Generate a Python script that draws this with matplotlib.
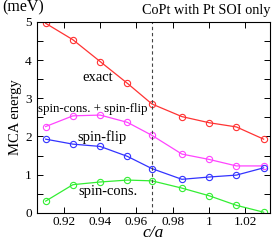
import numpy as np
import matplotlib
matplotlib.use("Agg")
import matplotlib.pyplot as plt
from matplotlib.ticker import MultipleLocator

# c/a values and MCA energies (meV)
ca = [0.91, 0.925, 0.94, 0.955, 0.9685, 0.985, 1.0, 1.015, 1.03]
exact = [4.96, 4.53, 3.96, 3.39, 2.85, 2.52, 2.36, 2.25, 1.93]
cons_flip = [2.26, 2.54, 2.56, 2.37, 2.03, 1.54, 1.40, 1.23, 1.23]
spin_flip = [1.93, 1.80, 1.74, 1.48, 1.16, 0.88, 0.94, 0.99, 1.18]
spin_cons = [0.31, 0.74, 0.81, 0.86, 0.84, 0.65, 0.45, 0.20, 0.02]
ca_eq = 0.9685
xticks = [0.92, 0.94, 0.96, 0.98, 1.0, 1.02]
xticklabels = ["0.92", "0.94", "0.96", "0.98", "1", "1.02"]

plt.rcParams['font.family'] = ['Liberation Serif', 'DejaVu Serif']

fig = plt.figure(figsize=(2.73, 2.42), dpi=100)
ax = fig.add_axes([0.134, 0.12, 0.855, 0.79])

mk = dict(marker='o', markersize=4.5, markerfacecolor='none', lw=0.9, mew=0.8)
ax.plot(ca, exact, color='#ff3333', **mk)
ax.plot(ca, cons_flip, color='#ff44ff', **mk)
ax.plot(ca, spin_flip, color='#3333ff', **mk)
ax.plot(ca, spin_cons, color='#33ee33', **mk)
ax.axvline(ca_eq, color='#444444', ls=(0, (3, 2.5)), lw=0.8)

ax.set_xlim(0.905, 1.0335)
ax.set_ylim(0, 5)
ax.set_xticks(xticks)
ax.set_xticklabels(xticklabels)
ax.yaxis.set_major_locator(MultipleLocator(1))
ax.yaxis.set_minor_locator(MultipleLocator(0.5))
ax.tick_params(which='both', direction='in', top=True, right=True, labelsize=9.5, length=4, width=0.7)
ax.tick_params(axis='x', pad=2)
for s in ax.spines.values():
    s.set_linewidth(0.8)

ax.text(0.930, 3.53, "exact", fontsize=10.5, va='center')
ax.text(0.9057, 2.72, "spin-cons. + spin-flip", fontsize=9.3, va='center')
ax.text(0.9272, 1.99, "spin-flip", fontsize=10.5, va='center')
ax.text(0.928, 0.56, "spin-cons.", fontsize=10.5, va='center')

ax.set_ylabel("MCA energy", fontsize=10.5, labelpad=2)
fig.text(0.5615, 0.004, "c/a", fontsize=12.5, style='italic', ha='center', va='bottom')
fig.text(0.008, 0.968, "(meV)", fontsize=11.5, va='center')
fig.text(0.99, 0.955, "CoPt with Pt SOI only", fontsize=10.3, ha='right', va='center')

fig.savefig("out.png", dpi=100)
